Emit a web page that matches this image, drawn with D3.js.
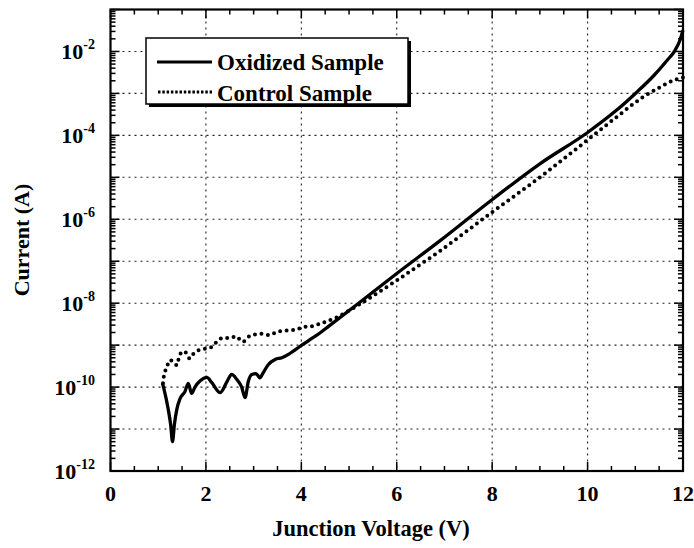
<!DOCTYPE html>
<html>
<head>
<meta charset="utf-8">
<script src="https://cdn.jsdelivr.net/npm/d3@7"></script>
<style>
  html, body { margin: 0; padding: 0; background: #fff; }
  svg { display: block; }
  text { font-family: "Liberation Serif", "Times New Roman", serif; font-weight: bold; fill: #000; }
</style>
</head>
<body>
<svg id="chart" width="694" height="548"></svg>
<script>
// Junction voltage (V) and current (A) for the oxidized sample
const oxidizedV = [1.09, 1.12, 1.21, 1.26, 1.30, 1.34, 1.39, 1.46, 1.56, 1.63, 1.70, 1.77, 1.88, 2.02, 2.12,
  2.30, 2.45, 2.54, 2.65, 2.75, 2.82, 2.89, 2.96, 3.05, 3.13, 3.20, 3.31, 3.45, 3.59, 3.73, 3.83,
  4.01, 4.18, 4.39, 4.57, 5.20, 6.00, 6.91, 8.01, 9.00, 10.00, 10.61, 11.03, 11.38, 11.66, 11.83, 11.94, 12.0];
const oxidizedI = [1.23e-10, 9.1e-11, 2.95e-11, 1.3e-11, 5.0e-12, 1.3e-11, 2.95e-11, 5.4e-11, 7.8e-11, 1.23e-10, 7.1e-11, 1.0e-10, 1.41e-10, 1.70e-10, 1.29e-10,
  7.4e-11, 1.41e-10, 2.0e-10, 1.51e-10, 1.0e-10, 5.6e-11, 1.38e-10, 2.0e-10, 2.1e-10, 1.66e-10, 2.19e-10, 3.47e-10, 4.57e-10, 5.0e-10, 6.0e-10, 7.2e-10,
  1.0e-9, 1.35e-9, 1.95e-9, 2.8e-9, 1.0e-8, 5.1e-8, 3.1e-7, 3.0e-6, 2.1e-5, 1.17e-4, 4.0e-4, 1.07e-3, 2.6e-3, 6.0e-3, 1.05e-2, 1.9e-2, 3.2e-2];

// Junction voltage (V) and current (A) for the control sample
const controlV = [1.10, 1.12, 1.17, 1.25, 1.34, 1.39, 1.43, 1.48, 1.55, 1.66, 1.72, 1.83, 2.00, 2.14, 2.21,
  2.35, 2.50, 2.63, 2.77, 2.91, 3.15, 3.33, 3.50, 3.71, 3.89, 4.03, 4.20, 4.38, 4.74, 5.30, 6.00,
  6.91, 8.01, 9.00, 10.02, 10.61, 11.17, 11.52, 11.87, 12.0];
const controlI = [1.23e-10, 1.86e-10, 2.75e-10, 4.4e-10, 3.7e-10, 3.3e-10, 4.8e-10, 6.6e-10, 7.1e-10, 4.8e-10, 5.9e-10, 7.4e-10, 8.3e-10, 9.3e-10, 1.15e-9,
  1.48e-9, 1.48e-9, 1.62e-9, 1.20e-9, 1.62e-9, 1.86e-9, 1.74e-9, 2.1e-9, 2.24e-9, 2.34e-9, 2.7e-9, 2.8e-9, 3.2e-9, 4.6e-9, 1.07e-8, 3.5e-8,
  1.78e-7, 1.51e-6, 1.0e-5, 8.1e-5, 2.75e-4, 8.3e-4, 1.41e-3, 2.19e-3, 2.4e-3];

// Axis ticks and labels
const xTicks = [0, 2, 4, 6, 8, 10, 12];
const yTicks = [1e-12, 1e-10, 1e-8, 1e-6, 1e-4, 1e-2];
const yTickExponents = ["-12", "-10", "-8", "-6", "-4", "-2"];
const seriesNames = ["Oxidized Sample", "Control Sample"];

const svg = d3.select("#chart");
const plot = { left: 110.5, right: 683, top: 9.5, bottom: 471 };

const x = d3.scaleLinear().domain([0, 12]).range([plot.left, plot.right]);
const y = d3.scaleLog().domain([1e-12, 1e-1]).range([plot.bottom, plot.top]);

// dotted grid
const grid = svg.append("g").attr("stroke", "#222").attr("stroke-width", 1.1).attr("stroke-dasharray", "2,4");
const decades = d3.range(-11, -1).map(e => Math.pow(10, e));
grid.selectAll("line.h").data(decades).join("line")
  .attr("x1", plot.left).attr("x2", plot.right)
  .attr("y1", d => y(d)).attr("y2", d => y(d));
grid.selectAll("line.v").data([2, 4, 6, 8, 10]).join("line")
  .attr("y1", plot.top).attr("y2", plot.bottom)
  .attr("x1", d => x(d)).attr("x2", d => x(d));

// inward ticks on all four sides
const ticks = svg.append("g").attr("stroke", "#000").attr("stroke-width", 1.5);
const yMinor = [];
for (let e = -12; e < -1; e++) for (let k = 2; k <= 9; k++) yMinor.push(k * Math.pow(10, e));
const yMajor = d3.range(-12, 0).map(e => Math.pow(10, e));
[[yMajor, 9], [yMinor, 5]].forEach(([vals, len]) => {
  ticks.append("g").selectAll("line").data(vals).join("line")
    .attr("x1", plot.left).attr("x2", plot.left + len)
    .attr("y1", d => y(d)).attr("y2", d => y(d));
  ticks.append("g").selectAll("line").data(vals).join("line")
    .attr("x1", plot.right).attr("x2", plot.right - len)
    .attr("y1", d => y(d)).attr("y2", d => y(d));
});
const xMajor = d3.range(0, 12.01, 2);
const xMinor = d3.range(0, 12.01, 0.5).filter(v => v % 2 !== 0);
[[xMajor, 9], [xMinor, 5]].forEach(([vals, len]) => {
  ticks.append("g").selectAll("line").data(vals).join("line")
    .attr("x1", d => x(d)).attr("x2", d => x(d))
    .attr("y1", plot.bottom).attr("y2", plot.bottom - len);
  ticks.append("g").selectAll("line").data(vals).join("line")
    .attr("x1", d => x(d)).attr("x2", d => x(d))
    .attr("y1", plot.top).attr("y2", plot.top + len);
});

// frame
svg.append("rect")
  .attr("x", plot.left).attr("y", plot.top)
  .attr("width", plot.right - plot.left).attr("height", plot.bottom - plot.top)
  .attr("fill", "none").attr("stroke", "#000").attr("stroke-width", 2.2);

// x tick labels
svg.append("g").selectAll("text").data(xTicks).join("text")
  .attr("x", d => x(d)).attr("y", 501)
  .attr("text-anchor", "middle").attr("font-size", 22)
  .text(d => d);

// y tick labels as powers of ten
const yl = svg.append("g").selectAll("text").data(yTicks).join("text")
  .attr("x", 95).attr("y", d => y(d) + 8)
  .attr("text-anchor", "end").attr("font-size", 22);
yl.append("tspan").text("10");
yl.append("tspan").attr("dy", -10).attr("font-size", 14).text((d, i) => yTickExponents[i]);

// axis titles
svg.append("text").attr("x", 371).attr("y", 536)
  .attr("text-anchor", "middle").attr("font-size", 22.5)
  .text("Junction Voltage (V)");
svg.append("text")
  .attr("transform", "translate(29,240) rotate(-90)")
  .attr("text-anchor", "middle").attr("font-size", 22)
  .text("Current (A)");

// curves
const line = d3.line().x(d => x(d[0])).y(d => y(d[1])).curve(d3.curveMonotoneX);
const oxidized = oxidizedV.map((v, i) => [v, oxidizedI[i]]);
const control = controlV.map((v, i) => [v, controlI[i]]);

svg.append("path").datum(control).attr("d", line)
  .attr("fill", "none").attr("stroke", "#000").attr("stroke-width", 4)
  .attr("stroke-linecap", "round").attr("stroke-dasharray", "0,6.5");
svg.append("path").datum(oxidized).attr("d", line)
  .attr("fill", "none").attr("stroke", "#000").attr("stroke-width", 3.3)
  .attr("stroke-linejoin", "round");

// legend with drop shadow
const lg = svg.append("g");
lg.append("rect").attr("x", 149).attr("y", 41).attr("width", 262).attr("height", 66).attr("fill", "#000");
lg.append("rect").attr("x", 146).attr("y", 38).attr("width", 262).attr("height", 66)
  .attr("fill", "#fff").attr("stroke", "#000").attr("stroke-width", 1.5);
lg.append("line").attr("x1", 157).attr("x2", 212).attr("y1", 62).attr("y2", 62)
  .attr("stroke", "#000").attr("stroke-width", 3);
lg.append("line").attr("x1", 158).attr("x2", 212).attr("y1", 92).attr("y2", 92)
  .attr("stroke", "#000").attr("stroke-width", 3).attr("stroke-dasharray", "2.5,1.8");
lg.append("text").attr("x", 217).attr("y", 70).attr("font-size", 23).text(seriesNames[0]);
lg.append("text").attr("x", 217).attr("y", 101).attr("font-size", 23).text(seriesNames[1]);
</script>
</body>
</html>
